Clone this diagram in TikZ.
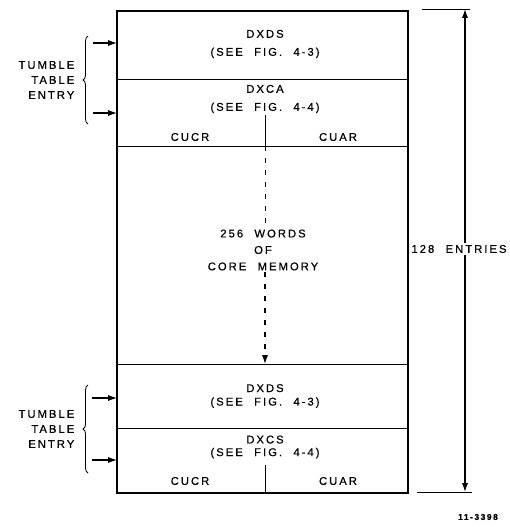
\documentclass[tikz,border=0pt]{standalone}
\usepackage{fontspec}
\setmainfont{Liberation Sans}[LetterSpace=18,WordSpace=2.2,FakeBold=0.6]
\usetikzlibrary{arrows.meta,decorations.pathreplacing}
\begin{document}
\begin{tikzpicture}[x=0.025cm,y=-0.025cm,
  txt/.style={font=\fontsize{8}{#1}\selectfont,align=center,inner sep=1pt},
  txt/.default=12.8,
  wall/.style={line width=1.3pt},
  rule/.style={line width=0.7pt},
  ptr/.style={-{Latex[length=2.2mm,width=1.5mm]},line width=0.8pt},
  dots/.style={line width=0.7pt,dash pattern=on 3.5pt off 5pt},
  brc/.style={decorate,decoration={brace,amplitude=3.5pt},line width=0.6pt}]
  \useasboundingbox (0,0) rectangle (509,527);

  % ---- memory block ----
  \coordinate (tl) at (117,11);
  \coordinate (br) at (408,493);
  \draw[wall] (tl) rectangle (br);
  \draw[rule] (117,79) -- (408,79);
  \draw[rule] (117,146) -- (408,146);
  \draw[rule] (117,364) -- (408,364);
  \draw[rule] (117,428) -- (408,428);
  \draw[rule] (265,115) -- (265,146);
  \draw[rule] (265,465) -- (265,493);

  \node[txt] (ds1) at (265,44) {DXDS\\(SEE FIG. 4-3)};
  \node[txt] (ca) at (265,99) {DXCA\\(SEE FIG. 4-4)};
  \node[txt] (cr1) at (190,137) {CUCR};
  \node[txt] (ar1) at (338,137) {CUAR};
  \node[txt=11.7] (mem) at (263,250) {256 WORDS\\OF\\CORE MEMORY};
  \node[txt=9.6] (ds2) at (265,396) {DXDS\\(SEE FIG. 4-3)};
  \node[txt=9] (cs) at (265,447) {DXCS\\(SEE FIG. 4-4)};
  \node[txt] (cr2) at (190,481) {CUCR};
  \node[txt] (ar2) at (338,481) {CUAR};

  % ---- pointer through core ----
  \coordinate (d0) at (265,146);
  \coordinate (d1) at (265,364);
  \draw[dots] (d0) -- (mem.north -| d0);
  \draw[dots,ptr] (mem.south -| d1) -- (d1);

  % ---- tumble table entries ----
  \node[txt=10.7,align=right,anchor=east] (tt1) at (76,80) {TUMBLE\\TABLE\\ENTRY};
  \draw[brc] (88,124) -- (88,36);
  \coordinate (a1) at (93,43);  \coordinate (b1) at (117,43);
  \coordinate (a2) at (93,113); \coordinate (b2) at (117,113);
  \draw[ptr] (a1) -- (b1);
  \draw[ptr] (a2) -- (b2);

  \node[txt=10.7,align=right,anchor=east] (tt2) at (76,429) {TUMBLE\\TABLE\\ENTRY};
  \draw[brc] (88,473) -- (88,385);
  \coordinate (a3) at (92,398); \coordinate (b3) at (117,398);
  \coordinate (a4) at (92,460); \coordinate (b4) at (117,460);
  \draw[ptr] (a3) -- (b3);
  \draw[ptr] (a4) -- (b4);

  % ---- entry count ----
  \node[txt] (cnt) at (459,249) {128 ENTRIES};
  \coordinate (up) at (465,9);
  \coordinate (dn) at (465,492);
  \draw[rule] (422,9) -- (470,9);
  \draw[rule] (417,492) -- (472,492);
  \draw[ptr] (cnt.north -| up) -- (up);
  \draw[ptr] (cnt.south -| dn) -- (dn);

  \node[font=\fontsize{6}{7}\selectfont\bfseries] (fig) at (478,517) {11-3398};
\end{tikzpicture}
\end{document}
